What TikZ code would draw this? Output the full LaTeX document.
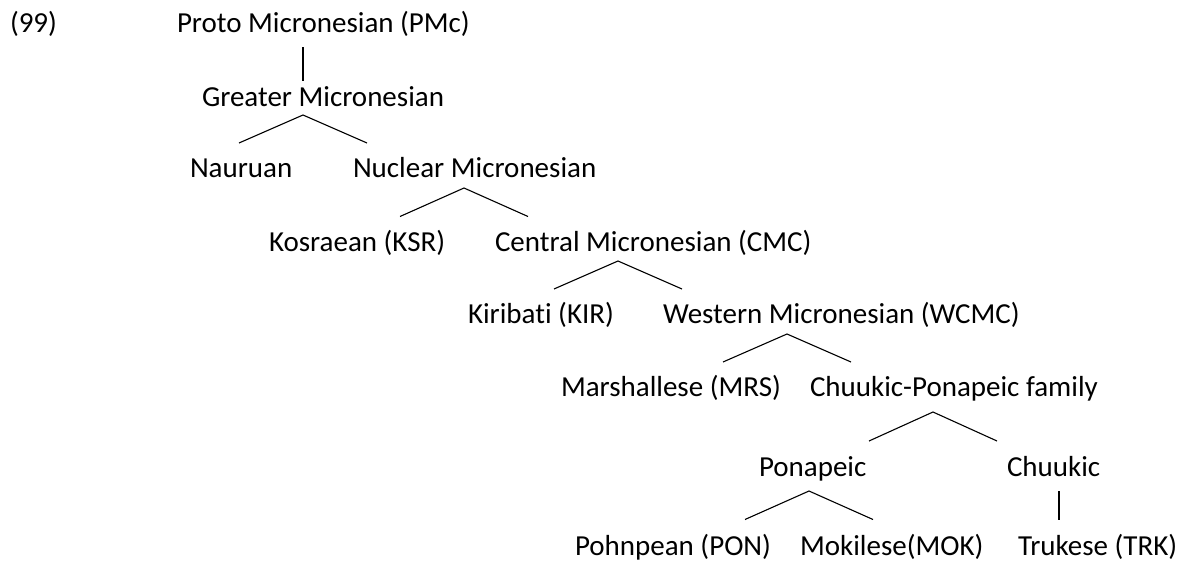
\documentclass[tikz,border=0pt]{standalone}
\usepackage{fontspec}
\setmainfont{Carlito}[Ligatures={NoCommon}]
\begin{document}
\begin{tikzpicture}[x=1pt,y=-1pt,
  lang/.style={anchor=base west,inner sep=0pt,outer sep=0pt,font=\fontsize{29}{34}\selectfont},
  branch/.style={draw=black,line width=1.1pt}]
\useasboundingbox (0,0) rectangle (1186,562);

% labels of the tree
\node[lang] (ex)   at (10,32)   {(99)};
\node[lang] (pmc)  at (177,32)  {Proto Micronesian (PMc)};
\node[lang] (gm)   at (202,106) {Greater Micronesian};
\node[lang] (nau)  at (190,177) {Nauruan};
\node[lang] (num)  at (353,177) {Nuclear Micronesian};
\node[lang] (ksr)  at (269,251) {Kosraean (KSR)};
\node[lang] (cmc)  at (495,251) {Central Micronesian (CMC)};
\node[lang] (kir)  at (468,323) {Kiribati (KIR)};
\node[lang] (wcmc) at (663,323) {Western Micronesian (WCMC)};
\node[lang] (mrs)  at (561,396) {Marshallese (MRS)};
\node[lang] (cpf)  at (810,396) {Chuukic-Ponapeic family};
\node[lang] (pnp)  at (759,476) {Ponapeic};
\node[lang] (chk)  at (1007,476){Chuukic};
\node[lang] (pon)  at (575,555) {Pohnpean (PON)};
\node[lang] (mok)  at (800,555) {Mokilese(MOK)};
\node[lang] (trk)  at (1018,555){Trukese (TRK)};

% branch points
\coordinate (pmcB) at (303,47);   \coordinate (gmT)  at (303,81);
\coordinate (gmB)  at (303,115);  \coordinate (nauT) at (239,143);  \coordinate (numT) at (367,143);
\coordinate (numB) at (464,188);  \coordinate (ksrT) at (400,216.5);\coordinate (cmcT) at (528,216.5);
\coordinate (cmcB) at (618,261);  \coordinate (kirT) at (554,289);  \coordinate (wcmcT) at (682,289);
\coordinate (wcmcB) at (787,334); \coordinate (mrsT) at (723,362);  \coordinate (cpfT) at (851,362);
\coordinate (cpfB) at (933,412);  \coordinate (pnpT) at (869,441);  \coordinate (chkT) at (997,441);
\coordinate (pnpB) at (809,491);  \coordinate (ponT) at (745,519.5);\coordinate (mokT) at (873,519.5);
\coordinate (chkB) at (1059,491); \coordinate (trkT) at (1059,519.5);

% branches
\draw[branch] (pmcB) -- (gmT);
\draw[branch] (nauT) -- (gmB) -- (numT);
\draw[branch] (ksrT) -- (numB) -- (cmcT);
\draw[branch] (kirT) -- (cmcB) -- (wcmcT);
\draw[branch] (mrsT) -- (wcmcB) -- (cpfT);
\draw[branch] (pnpT) -- (cpfB) -- (chkT);
\draw[branch] (ponT) -- (pnpB) -- (mokT);
\draw[branch] (chkB) -- (trkT);
\end{tikzpicture}
\end{document}
